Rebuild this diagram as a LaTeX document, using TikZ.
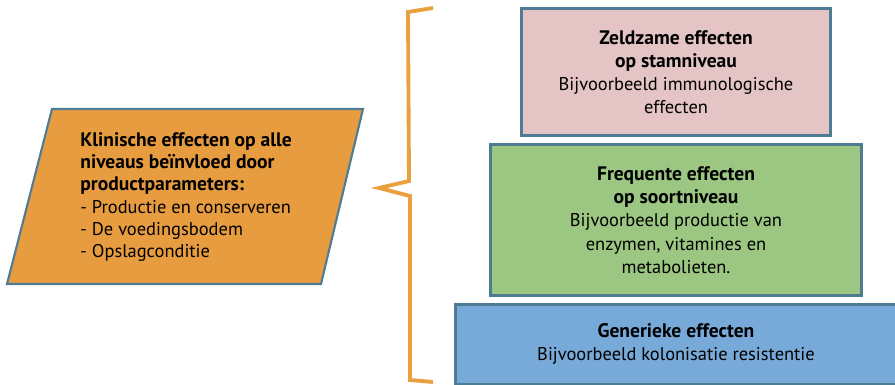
\documentclass[tikz,border=0pt]{standalone}
\usepackage{fontspec}
\setmainfont{PT Sans}[BoldFeatures={Scale=1.06}]
\definecolor{edgeblue}{HTML}{4F7C95}
\definecolor{klinorange}{HTML}{E89C40}
\definecolor{braceorange}{HTML}{E9A13F}
\definecolor{zeldpink}{HTML}{E4C4C4}
\definecolor{freqgreen}{HTML}{9CC782}
\definecolor{genblue}{HTML}{77AAD9}
\tikzset{
  levelbox/.style={draw=edgeblue, line width=1.7pt, align=center, inner sep=0pt,
    font=\fontsize{10.5}{13.2}\selectfont},
  klintext/.style={align=left, inner sep=0pt, font=\fontsize{10.5}{12.6}\selectfont}
}

\begin{document}
\begin{tikzpicture}[x=0.02cm, y=-0.02cm]
			%%%%% START %%%%%
			\useasboundingbox (0, 0) rectangle (895, 385);
			
			% parallellogram links
			\draw[fill=klinorange, draw=edgeblue, line width=1.2pt] (52, 109) -- (363, 109) -- (321, 284) -- (7, 284) -- cycle;
			\node[klintext, anchor=west] (klin) at (80, 197) {\textbf{Klinische effecten op alle}\\\textbf{niveaus beïnvloed door}\\\textbf{productparameters:}\\- Productie en conserveren\\- De voedingsbodem\\- Opslagconditie};
			
			% accolade
			\draw[braceorange, line width=2.2pt, line join=miter] (433, 8) -- (408, 12) -- (409, 181) -- (379, 188) -- (410, 196) -- (410, 380) -- (433, 382);
			
			% niveaus
			\node[levelbox, fill=zeldpink, minimum width=6.2cm, minimum height=2.56cm] (zeld) at (676, 72)
				{\textbf{Zeldzame effecten}\\\textbf{op stamniveau}\\Bijvoorbeeld immunologische\\effecten};
			\node[levelbox, fill=freqgreen, minimum width=7.44cm, minimum height=3.04cm] (freq) at (676, 220)
				{\textbf{Frequente effecten}\\\textbf{op soortniveau}\\Bijvoorbeeld productie van\\enzymen, vitamines en\\metabolieten.};
			\node[levelbox, fill=genblue, minimum width=8.84cm, minimum height=1.6cm] (gen) at (676, 344)
				{\textbf{Generieke effecten}\\Bijvoorbeeld kolonisatie resistentie};
			
			%%%%% END %%%%%
\end{tikzpicture}
\end{document}
